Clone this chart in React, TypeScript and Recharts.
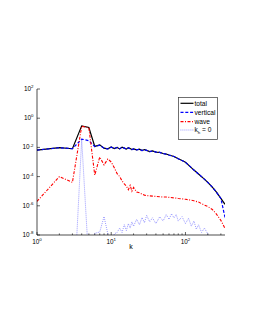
import React from 'react'
import { LineChart, Line, XAxis, YAxis, Legend } from 'recharts'

// wavenumbers shared by the total / vertical / wave spectra
const kGrid = [
  1, 2, 3, 4, 5, 6, 7, 8, 9, 10, 11, 12, 13, 14, 15, 16, 17, 18, 19, 20,
  22, 24, 26, 28, 30, 33, 36, 40, 45, 50, 55, 60, 70, 80, 90,
  100, 115, 130, 150, 175, 200, 230, 260, 300, 341,
]

const totalVals = [
  6.6e-3, 9.5e-3, 8.1e-3, 0.3, 0.23, 1.17e-2, 1.5e-2, 8.9e-3, 7.9e-3, 1.07e-2,
  8.3e-3, 1.0e-2, 7.9e-3, 1.05e-2, 8.9e-3, 7.6e-3, 9.5e-3, 8.3e-3, 7.1e-3, 7.9e-3,
  6.8e-3, 7.6e-3, 6.0e-3, 7.1e-3, 6.3e-3, 5.2e-3, 5.8e-3, 4.8e-3, 4.5e-3, 3.8e-3,
  3.5e-3, 3.0e-3, 2.4e-3, 1.66e-3, 1.26e-3,
  9.5e-4, 5.0e-4, 2.8e-4, 1.5e-4, 7.6e-5, 4.0e-5, 1.9e-5, 8.9e-6, 3.2e-6, 1.26e-6,
]

const verticalVals = [
  6.6e-3, 9.5e-3, 8.1e-3, 3.7e-2, 2.9e-2, 1.15e-2, 1.4e-2, 8.7e-3, 7.9e-3, 1.05e-2,
  8.3e-3, 9.8e-3, 7.9e-3, 1.03e-2, 8.9e-3, 7.5e-3, 9.3e-3, 8.3e-3, 7.0e-3, 7.8e-3,
  6.8e-3, 7.5e-3, 6.0e-3, 7.0e-3, 6.3e-3, 5.2e-3, 5.7e-3, 4.8e-3, 4.5e-3, 3.8e-3,
  3.5e-3, 3.0e-3, 2.4e-3, 1.66e-3, 1.26e-3,
  9.5e-4, 5.0e-4, 2.8e-4, 1.5e-4, 7.6e-5, 4.0e-5, 1.9e-5, 8.9e-6, 3.2e-6, 1.6e-7,
]

const waveVals = [
  2.0e-6, 1.0e-4, 4.0e-5, 0.28, 0.22, 1.26e-4, 2.2e-3, 6.3e-4, 1.6e-3, 1.0e-3,
  4.0e-4, 1.6e-4, 1.0e-4, 5.0e-5, 3.2e-5, 2.2e-5, 1.26e-5, 2.5e-5, 1.0e-5, 1.8e-5,
  8.9e-6, 7.9e-6, 6.3e-6, 5.4e-6, 5.0e-6, 4.8e-6, 4.6e-6, 4.4e-6, 4.2e-6, 4.0e-6,
  4.0e-6, 3.8e-6, 3.5e-6, 3.2e-6, 3.0e-6,
  2.8e-6, 2.5e-6, 2.2e-6, 1.8e-6, 1.2e-6, 8.9e-7, 5.6e-7, 2.8e-7, 1.0e-7, 2.8e-8,
]

// k_h = 0 part (values under 1e-8 fall below the axis)
const kZero = [
  1, 2, 3, 4, 5, 6, 7, 8, 9, 10, 11, 12, 13, 14, 15, 16, 17, 18, 19, 20,
  22, 24, 26, 28, 30, 33, 36, 40, 45, 50, 55, 60, 65, 70, 75, 80, 90,
  100, 110, 120, 130, 140, 150, 165, 180, 200, 220,
]

const zeroVals = [
  1e-9, 1e-9, 1e-14, 3.5e-2, 1e-10, 1.3e-8, 1.6e-8, 1.8e-7, 1.2e-8, 1e-9,
  1.2e-8, 1.5e-8, 3e-8, 1.5e-8, 5e-8, 2e-8, 6e-8, 3e-8, 8e-8, 4e-8,
  1.2e-7, 5e-8, 1.6e-7, 7e-8, 2.2e-7, 8e-8, 1.5e-7, 6e-8, 1.8e-7, 9e-8,
  2.5e-7, 1.2e-7, 2.8e-7, 1.5e-7, 2.5e-7, 9e-8, 1.8e-7,
  6e-8, 1.4e-7, 4e-8, 9e-8, 2.5e-8, 5e-8, 1.5e-8, 3e-8, 1.2e-8, 1e-9,
]

const xTicks = [1, 2, 3, 4, 5, 6, 7, 8, 9, 10, 20, 30, 40, 50, 60, 70, 80, 90, 100, 200, 300]
const xLabelTicks = [1, 10, 100]
const yTicks = [1e-8, 1e-6, 1e-4, 1e-2, 1, 100]

const FONT = '"Liberation Sans", Arial, Helvetica, sans-serif'

const toPoints = (ks: number[], vs: number[]) => ks.map((k, i) => ({ k, v: vs[i] }))

const series = [
  { name: 'total', data: toPoints(kGrid, totalVals), color: '#000000', dash: undefined, opacity: 1, width: 1.2 },
  { name: 'vertical', data: toPoints(kGrid, verticalVals), color: '#0000ff', dash: '3 1.8', opacity: 1, width: 1.2 },
  { name: 'wave', data: toPoints(kGrid, waveVals), color: '#ff0000', dash: '3 1.5 1 1.5', opacity: 1, width: 1.1 },
  { name: 'k_h = 0', data: toPoints(kZero, zeroVals), color: '#3030ff', dash: '0.8 1.2', opacity: 0.6, width: 1 },
]

const exponent = (v: number) => Math.round(Math.log10(v))

function PowLabel({ x, y, value, anchor }: any) {
  return (
    <text x={x} y={y} textAnchor={anchor} fontSize={6.4} fontFamily={FONT} fill="#000">
      10<tspan dy={-2.8} fontSize={4.4}>{exponent(value)}</tspan>
    </text>
  )
}

function BottomTick({ x, y, payload }: any) {
  const major = xLabelTicks.includes(payload.value)
  return (
    <g>
      <line x1={x} y1={y} x2={x} y2={y - (major ? 3 : 1.6)} stroke="#000" strokeWidth={0.6} />
      {major && <PowLabel x={x} y={y + 8.5} value={payload.value} anchor="middle" />}
    </g>
  )
}

function TopTick({ x, y, payload }: any) {
  const major = xLabelTicks.includes(payload.value)
  return <line x1={x} y1={y} x2={x} y2={y + (major ? 3 : 1.6)} stroke="#000" strokeWidth={0.6} />
}

function LeftTick({ x, y, payload }: any) {
  return (
    <g>
      <line x1={x} y1={y} x2={x + 3} y2={y} stroke="#000" strokeWidth={0.6} />
      <PowLabel x={x - 3.5} y={y + 2} value={payload.value} anchor="end" />
    </g>
  )
}

function RightTick({ x, y }: any) {
  return <line x1={x} y1={y} x2={x - 3} y2={y} stroke="#000" strokeWidth={0.6} />
}

function LegendBox() {
  const rows = [6.3, 15.3, 24.6, 33]
  return (
    <svg width={40} height={43} style={{ display: 'block' }}>
      <rect x={0.5} y={0.5} width={39} height={42} fill="#fff" stroke="#333" strokeWidth={0.7} />
      {series.map((s, i) => (
        <g key={s.name}>
          <line
            x1={2.5}
            x2={15.5}
            y1={rows[i]}
            y2={rows[i]}
            stroke={s.color}
            strokeOpacity={s.opacity}
            strokeDasharray={s.dash}
            strokeWidth={s.width}
          />
          {s.name === 'k_h = 0' ? (
            <text x={16.5} y={rows[i] + 2.2} fontSize={6.6} fontFamily={FONT} fill="#000">
              k<tspan dy={1.6} fontSize={4.4}>h</tspan>
              <tspan dy={-1.6}> = 0</tspan>
            </text>
          ) : (
            <text x={16.5} y={rows[i] + 2.2} fontSize={6.6} fontFamily={FONT} fill="#000">
              {s.name}
            </text>
          )}
        </g>
      ))}
    </svg>
  )
}

export default function App() {
  return (
    <div style={{ position: 'absolute', left: 0, top: 0, width: 255, height: 330, background: '#fff' }}>
      <LineChart width={255} height={330} margin={{ top: 89, right: 30, bottom: 75, left: 7 }}>
        <XAxis
          xAxisId="bottom"
          dataKey="k"
          type="number"
          scale="log"
          domain={[1, 341]}
          allowDataOverflow
          ticks={xTicks}
          interval={0}
          height={20}
          tickSize={0}
          tickMargin={0}
          tickLine={false}
          axisLine={{ stroke: '#000', strokeWidth: 0.7 }}
          tick={(p: any) => <BottomTick {...p} />}
          label={{ value: 'k', position: 'insideBottom', offset: 6, fontSize: 7, fontFamily: FONT, fill: '#000' }}
        />
        <XAxis
          xAxisId="top"
          orientation="top"
          dataKey="k"
          type="number"
          scale="log"
          domain={[1, 341]}
          allowDataOverflow
          ticks={xTicks}
          interval={0}
          height={0}
          tickSize={0}
          tickMargin={0}
          tickLine={false}
          axisLine={{ stroke: '#000', strokeWidth: 0.7 }}
          tick={(p: any) => <TopTick {...p} />}
        />
        <YAxis
          yAxisId="left"
          type="number"
          scale="log"
          domain={[1e-8, 100]}
          allowDataOverflow
          ticks={yTicks}
          interval={0}
          width={30}
          tickSize={0}
          tickMargin={0}
          tickLine={false}
          axisLine={{ stroke: '#000', strokeWidth: 0.7 }}
          tick={(p: any) => <LeftTick {...p} />}
        />
        <YAxis
          yAxisId="right"
          orientation="right"
          type="number"
          scale="log"
          domain={[1e-8, 100]}
          allowDataOverflow
          ticks={yTicks}
          interval={0}
          width={0}
          tickSize={0}
          tickMargin={0}
          tickLine={false}
          axisLine={{ stroke: '#000', strokeWidth: 0.7 }}
          tick={(p: any) => <RightTick {...p} />}
        />
        {series.map((s) => (
          <Line
            key={s.name}
            xAxisId="bottom"
            yAxisId="left"
            data={s.data}
            dataKey="v"
            name={s.name}
            type="linear"
            stroke={s.color}
            strokeOpacity={s.opacity}
            strokeDasharray={s.dash}
            strokeWidth={s.width}
            dot={false}
            activeDot={false}
            isAnimationActive={false}
          />
        ))}
        <Legend
          layout="vertical"
          align="center"
          verticalAlign="middle"
          wrapperStyle={{ position: 'absolute', left: 178, top: 97, width: 40, height: 43 }}
          content={() => <LegendBox />}
        />
      </LineChart>
    </div>
  )
}
